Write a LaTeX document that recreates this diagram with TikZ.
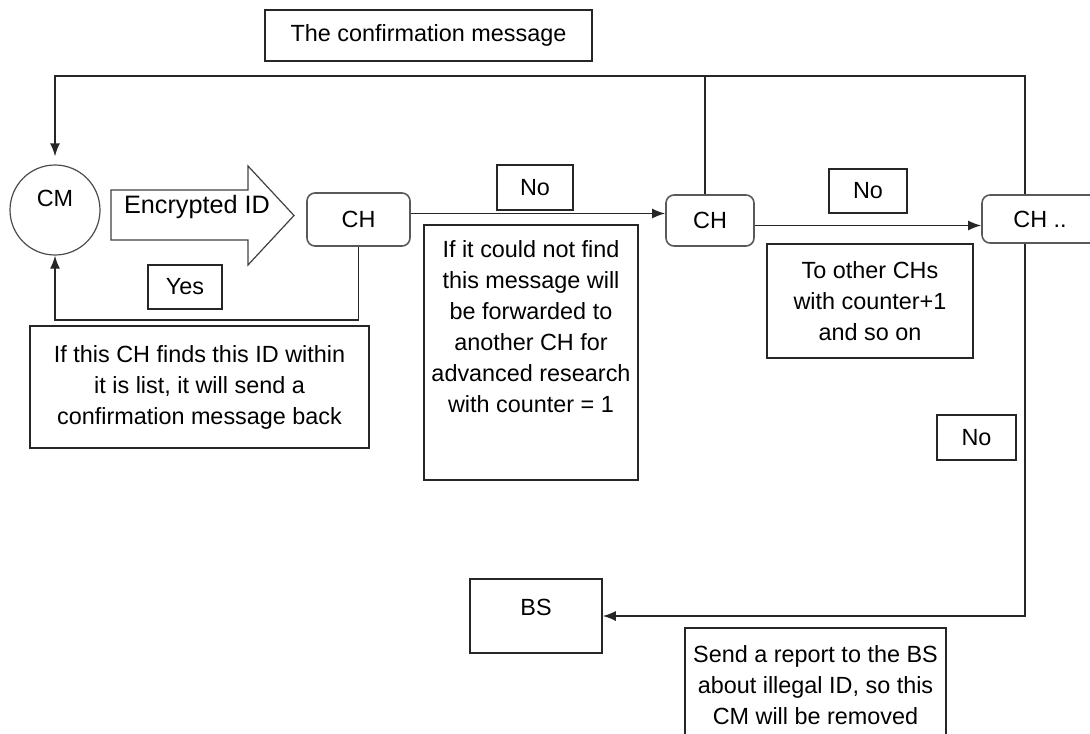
\documentclass[tikz,border=0pt]{standalone}
\usepackage{fontspec}
\setmainfont{Liberation Sans}
\usetikzlibrary{arrows.meta}
\newcommand{\toptext}[3]{\parbox[c][#2][t]{#1}{\centering #3}}
\newcommand{\liftby}[2]{\raisebox{#1}[0pt][0pt]{#2}}

\begin{document}
\begin{tikzpicture}[x=0.5pt,y=-0.5pt,
every node/.style={font=\fontsize{11.7}{15.5}\selectfont,align=center,inner sep=0pt},
textbox/.style={draw=black!85,line width=0.75pt},
chbox/.style={draw=black!65,line width=0.8pt,rounded corners=4pt},
link/.style={draw=black!85,line width=0.8pt},
arr/.style={link,-{Latex[length=6.5pt,width=5pt]}}]
\useasboundingbox (0,0) rectangle (1090,733);

%the member and the cluster heads
\node[circle,draw=black!70,line width=0.6pt,minimum size=45pt](cm) at (55,210) {\liftby{1.8pt}{CM}};
\node[chbox,minimum width=51.5pt,minimum height=26.5pt](ch1) at (358.5,219.5) {CH};
\node[chbox,minimum width=44pt,minimum height=25.5pt](ch2) at (710,220.5) {CH};
\node[chbox,minimum width=58pt,minimum height=24pt](ch3) at (1040,219) {CH ..};
\node[textbox,minimum width=66pt,minimum height=37pt](bs) at (536,616) {\liftby{0.3pt}{BS}};

%the encrypted ID arrow
\draw[draw=black!75,line width=0.6pt] (111,190) -- (248,190) -- (248,166) -- (294,215.5)
	-- (248,265) -- (248,240) -- (111,240) -- cycle;
\node(enc) at (197,207) {\fontsize{12.6}{15.5}\selectfont Encrypted ID};

%labels on the links
\node[textbox,minimum width=163.5pt,minimum height=25.5pt](conf) at (428.5,35.5) {The confirmation message};
\node[textbox,minimum width=37pt,minimum height=22pt](yes) at (185,287) {Yes};
\node[textbox,minimum width=38pt,minimum height=22.5pt](no1) at (535,187.5) {No};
\node[textbox,minimum width=39pt,minimum height=22pt](no2) at (868,191) {No};
\node[textbox,minimum width=39.5pt,minimum height=22.5pt](no3) at (976.5,437.5) {No};

%the notes
\node[textbox,minimum width=169.5pt,minimum height=61pt](msg1) at (199.5,387) {If this CH finds this ID within\\it is list, it will send a\\confirmation message back};
\node[textbox,minimum width=107pt,minimum height=127.5pt,inner xsep=2pt,inner ysep=8pt](msg2) at (531,352.5)
	{\toptext{103pt}{111.5pt}{If it could not find\\this message will\\be forwarded to\\another CH for\\advanced research\\with counter = 1}};
\node[textbox,minimum width=103pt,minimum height=57pt](msg3) at (870,301) {To other CHs\\with counter+1\\and so on};
\node[textbox,minimum width=130.5pt,minimum height=57pt](msg4) at (815.5,685) {Send a report to the BS\\about illegal ID, so this\\CM will be removed};

%links
\coordinate(tl) at (55,76);
\draw[arr,shorten >=4pt] ([xshift=-7.5pt]ch3.north) |- (tl) -- (cm);
\draw[link] ([xshift=-2.5pt]ch2.north) -- ([xshift=-2.5pt]ch2.north |- tl);
\draw[arr] (ch1.south) -- ++(0,73) -| (cm.south);
\draw[arr] ([yshift=3pt]ch1.east) -- ([yshift=3pt]ch1.east -| ch2.west);
\draw[arr] ([yshift=-2.5pt]ch2.east) -- ([yshift=-2.5pt]ch2.east -| ch3.west);
\draw[arr] ([xshift=-7.5pt]ch3.south) |- (bs.east);

\end{tikzpicture}
\end{document}
